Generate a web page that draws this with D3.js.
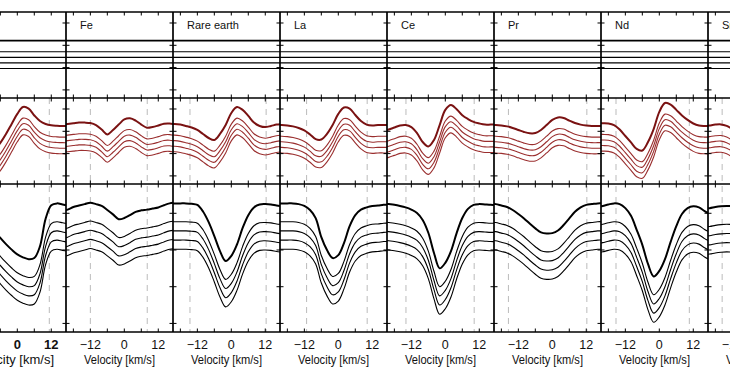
<!DOCTYPE html>
<html><head><meta charset="utf-8">
<script src="https://cdn.jsdelivr.net/npm/d3@7"></script>
<style>body{margin:0;background:#fff}svg{display:block}</style>
</head><body>
<svg id="chart" width="730" height="377"></svg>
<script>
// ---------------- data ----------------
const velocity = [-22,-20,-18,-16,-14,-12,-10,-8,-6,-4,-2,0,2,4,6,8,10,12,14,16,18];
const panelLabels = ["", "Fe", "Rare earth", "La", "Ce", "Pr", "Nd", "Sm"];
const xTickValues = [-18,-12,-6,0,6,12];
const xTickLabels = [-12,0,12];
const yTicksVN = [-2,-1,0,1];        // Stokes V, N  (%)
const yTicksI = [0.7,0.8,0.9,1.0];   // Stokes I / Ic
const offsetsI = [0,-0.05,-0.075,-0.10,-0.125];
const offsetsVN = [0,-0.5,-0.75,-1.0,-1.25];
const N = null;

const stokesI_left = [N,N,N,N,N,N,0.975,0.952,0.933,0.916,0.901,0.888,0.880,0.875,0.878,0.910,0.985,1.022,1.027,1.024,1.021];
const stokesI_Fe   = [1.006,1.010,1.017,1.021,1.025,1.029,1.025,1.020,1.009,0.997,0.984,0.987,0.995,1.004,1.008,1.010,1.013,1.016,1.022,1.027,1.029];
const stokesI_RE   = [1.027,1.027,1.027,1.027,1.026,1.023,1.005,0.976,0.938,0.897,0.870,0.884,0.915,0.960,0.995,1.016,1.024,1.025,1.024,1.021,1.019];
const stokesI_La   = [1.027,1.027,1.027,1.027,1.025,1.020,1.009,0.987,0.935,0.900,0.878,0.886,0.919,0.965,0.995,1.010,1.016,1.020,1.021,1.023,1.023];
const stokesI_Ce   = [1.027,1.025,1.023,1.020,1.016,1.010,1.001,0.982,0.947,0.892,0.850,0.865,0.897,0.946,0.987,1.012,1.023,1.025,1.024,1.023,1.023];
const stokesI_Pr   = [1.027,1.025,1.021,1.017,1.009,0.998,0.986,0.972,0.959,0.948,0.945,0.946,0.953,0.968,0.986,1.004,1.016,1.023,1.025,1.027,1.027];
const stokesI_Nd   = [1.017,1.020,1.024,1.027,1.025,1.014,0.993,0.955,0.914,0.862,0.828,0.843,0.875,0.922,0.965,0.998,1.014,1.019,1.016,1.006,0.998];
const stokesI_Sm   = [1.013,1.014,1.017,1.019,1.020,1.019,1.014,N,N,N,N,N,N,N,N,N,N,N,N,N,N];

const stokesV_left = [N,N,N,N,N,N,-1.05,-0.84,-0.52,-0.12,0.33,0.78,1.09,1.02,0.71,0.46,0.33,0.27,0.25,0.24,0.24];
const stokesV_Fe   = [0.30,0.33,0.36,0.39,0.39,0.37,0.28,0.08,-0.14,0.06,0.30,0.53,0.58,0.48,0.30,0.16,0.19,0.26,0.34,0.35,0.30];
const stokesV_RE   = [0.33,0.33,0.30,0.24,0.17,0.06,-0.12,-0.30,-0.39,-0.12,0.28,0.82,1.09,0.96,0.69,0.39,0.24,0.19,0.24,0.30,0.33];
const stokesV_La   = [0.28,0.28,0.26,0.22,0.15,0.04,-0.14,-0.35,-0.37,-0.12,0.28,0.78,1.07,1.02,0.73,0.46,0.30,0.26,0.28,0.28,0.28];
const stokesV_Ce   = [0.01,0.08,0.17,0.26,0.28,0.19,-0.08,-0.48,-0.68,-0.39,0.28,0.96,1.18,0.99,0.72,0.55,0.42,0.35,0.30,0.30,0.30];
const stokesV_Pr   = [0.28,0.28,0.26,0.22,0.15,0.06,-0.03,-0.09,-0.08,0.06,0.28,0.51,0.62,0.60,0.48,0.37,0.30,0.26,0.24,0.24,0.24];
const stokesV_Nd   = [0.37,0.36,0.35,0.28,0.08,-0.21,-0.50,-0.79,-0.86,-0.48,0.10,0.87,1.27,1.20,0.96,0.71,0.51,0.35,0.26,0.24,0.24];
const stokesV_Sm   = [0.22,0.26,0.30,0.31,0.24,0.10,-0.08,N,N,N,N,N,N,N,N,N,N,N,N,N,N];

const stokesN_all  = [0.21,0.21,0.21,0.21,0.21,0.21,0.21,0.21,0.21,0.21,0.21,0.21,0.21,0.21,0.21,0.21,0.21,0.21,0.21,0.21,0.21];

const dashedVel = [[-12.5,11.3],[-12.0,8.1],[-14.6,12.3],[-11.2,10.2],[-13.9,10.2],[-15.5,12.2],[-15.3,10.6],[-15.6,10.0]];

const stokesI = [stokesI_left,stokesI_Fe,stokesI_RE,stokesI_La,stokesI_Ce,stokesI_Pr,stokesI_Nd,stokesI_Sm];
const stokesV = [stokesV_left,stokesV_Fe,stokesV_RE,stokesV_La,stokesV_Ce,stokesV_Pr,stokesV_Nd,stokesV_Sm];

// ---------------- layout ----------------
const W = 730, H = 377;
const panelLeft0 = -41, panelStep = 107, panelW = 107;
const rowN = [12, 98], rowV = [98, 184], rowI = [184, 332];
const font = "'Liberation Sans', Arial, Helvetica, sans-serif";

const x = d3.scaleLinear().domain([-20.6, 17.2]).range([0, panelW]);
const yN = d3.scaleLinear().domain([-2.363, 1.493]).range([rowN[1], rowN[0]]);
const yV = d3.scaleLinear().domain([-2.363, 1.493]).range([rowV[1], rowV[0]]);
const yI = d3.scaleLinear().domain([0.6766, 1.0798]).range([rowI[1], rowI[0]]);

const svg = d3.select("#chart");
svg.append("rect").attr("width", W).attr("height", H).attr("fill", "#fff");
const defs = svg.append("defs");

panelLabels.forEach((lab, p) => {
  const left = panelLeft0 + p * panelStep;
  const g = svg.append("g").attr("transform", `translate(${left},0)`);
  const clipId = "clip" + p;
  defs.append("clipPath").attr("id", clipId)
    .append("rect").attr("x", 0).attr("y", rowN[0]).attr("width", panelW).attr("height", rowI[1] - rowN[0]);
  const cg = g.append("g").attr("clip-path", `url(#${clipId})`);

  dashedVel[p].forEach(v => {
    cg.append("line").attr("x1", x(v)).attr("x2", x(v))
      .attr("y1", rowV[0]).attr("y2", rowI[1])
      .attr("stroke", "#bbbbbb").attr("stroke-width", 1).attr("stroke-dasharray", "6,5");
  });

  const mk = (ys, off) => d3.line()
    .defined(d => d != null)
    .x((d, i) => x(velocity[i]))
    .y(d => ys(d + off))
    .curve(d3.curveCatmullRom.alpha(0.5));

  offsetsVN.forEach((off, k) => {
    cg.append("path").datum(stokesN_all).attr("d", mk(yN, off))
      .attr("fill", "none").attr("stroke", "#000").attr("stroke-width", k === 0 ? 1.7 : 1.1);
  });
  offsetsVN.slice().reverse().forEach((off, kk) => {
    const k = offsetsVN.length - 1 - kk;
    cg.append("path").datum(stokesV[p]).attr("d", mk(yV, off))
      .attr("fill", "none").attr("stroke", k === 0 ? "#7a1212" : "#9a2e2e")
      .attr("stroke-width", k === 0 ? 2.0 : 1.1);
  });
  offsetsI.forEach((off, k) => {
    cg.append("path").datum(stokesI[p]).attr("d", mk(yI, off))
      .attr("fill", "none").attr("stroke", "#000").attr("stroke-width", k === 0 ? 2.0 : 1.1);
  });

  const tl = 3.5;
  [rowN[0], rowN[1], rowV[1], rowI[1]].forEach((yy, j) => {
    xTickValues.forEach(v => {
      const y1 = j === 0 ? yy : yy - tl;
      const y2 = j === 3 ? yy : yy + tl;
      g.append("line").attr("x1", x(v)).attr("x2", x(v)).attr("y1", y1).attr("y2", y2)
        .attr("stroke", "#000").attr("stroke-width", 1);
    });
  });
  const yt = [];
  yTicksVN.forEach(t => yt.push(yN(t)));
  yTicksVN.forEach(t => yt.push(yV(t)));
  yTicksI.forEach(t => yt.push(yI(t)));
  yt.forEach(yy => {
    g.append("line").attr("x1", 0).attr("x2", tl).attr("y1", yy).attr("y2", yy).attr("stroke", "#000").attr("stroke-width", 1);
    g.append("line").attr("x1", panelW - tl).attr("x2", panelW).attr("y1", yy).attr("y2", yy).attr("stroke", "#000").attr("stroke-width", 1);
  });

  g.append("line").attr("x1", 0).attr("x2", 0).attr("y1", rowN[0]).attr("y2", rowI[1])
    .attr("stroke", "#000").attr("stroke-width", 1.7);

  if (lab) g.append("text").attr("x", 14).attr("y", 29).text(lab)
    .attr("font-family", font).attr("font-size", 11).attr("fill", "#111");

  xTickLabels.forEach(v => {
    g.append("text").attr("x", x(v)).attr("y", 349).attr("text-anchor", "middle")
      .attr("font-family", font).attr("font-size", p === 0 ? 13 : 12.5)
      .attr("font-weight", p === 0 ? "bold" : "normal").attr("fill", "#111")
      .text(v < 0 ? "\u2212" + Math.abs(v) : String(v));
  });
  const title = g.append("text").attr("x", panelW / 2).attr("y", 364).attr("text-anchor", "middle")
    .attr("font-family", font).attr("fill", "#111").text("Velocity [km/s]");
  if (p === 0) {
    title.attr("font-size", 13);
  } else {
    title.attr("font-size", 12.5).attr("textLength", 71).attr("lengthAdjust", "spacingAndGlyphs");
  }
});

[rowN[0], rowN[1], rowV[1], rowI[1]].forEach(yy => {
  svg.append("line").attr("x1", 0).attr("x2", W).attr("y1", yy).attr("y2", yy)
    .attr("stroke", "#000").attr("stroke-width", 1.6);
});
</script>
</body></html>
